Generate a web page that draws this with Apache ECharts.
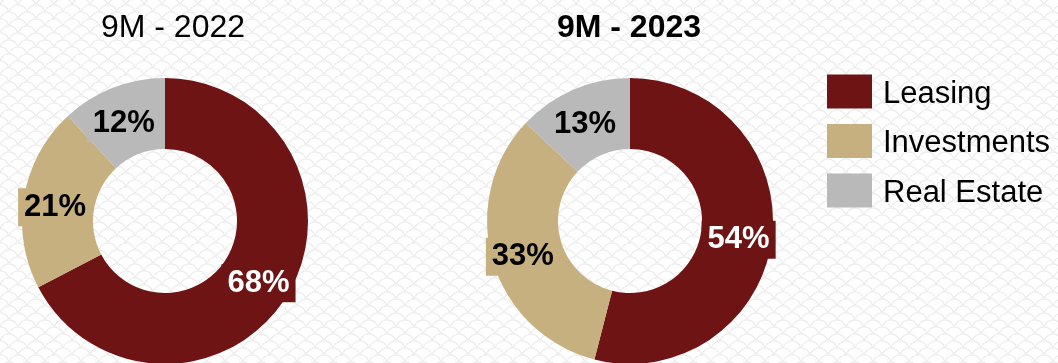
<!DOCTYPE html>
<html>
<head>
<meta charset="utf-8">
<script src="https://cdn.jsdelivr.net/npm/echarts@6/dist/echarts.min.js"></script>
<style>
  html, body { margin: 0; padding: 0; background: #fff; }
  #chart { width: 1058px; height: 363px; }
</style>
</head>
<body>
<div id="chart"></div>
<script>
// Revenue mix by segment, nine-month periods
const segments = ['Leasing', 'Investments', 'Real Estate'];
const periods = ['9M - 2022', '9M - 2023'];
const share2022 = [68, 21, 12];
const share2023 = [54, 33, 13];

const segmentColors = ['#6e1414', '#c7b07f', '#b9b9b9'];
const labelColors = ['#ffffff', '#000000', '#000000'];
const FONT = '"Liberation Sans", Arial, Helvetica, sans-serif';

// faint scalloped backdrop tile
function makeTile() {
  const w = 18, h = 14;
  const c = document.createElement('canvas');
  c.width = w; c.height = h;
  const g = c.getContext('2d');
  g.fillStyle = '#ffffff';
  g.fillRect(0, 0, w, h);
  g.strokeStyle = '#ebebeb';
  g.lineWidth = 1.2;
  const arcs = [[9, 7], [0, 14], [18, 14], [0, 0], [18, 0], [9, 21]];
  arcs.forEach(([x, y]) => {
    g.beginPath();
    g.arc(x, y, 9, Math.PI * 1.1, Math.PI * 1.9);
    g.stroke();
  });
  return c;
}

function donutData(values) {
  return values.map((v, i) => ({
    name: segments[i],
    value: v,
    itemStyle: { color: segmentColors[i] },
    label: {
      color: labelColors[i],
      backgroundColor: segmentColors[i]
    }
  }));
}

function donut(name, values, cx) {
  return {
    type: 'pie',
    name: name,
    center: [cx, 221],
    radius: [72, 143],
    startAngle: 90,
    clockwise: true,
    avoidLabelOverlap: false,
    silent: true,
    animation: false,
    label: {
      show: true,
      position: 'inside',
      formatter: p => p.value + '%',
      fontFamily: FONT,
      fontWeight: 'bold',
      fontSize: 31,
      lineHeight: 32,
      padding: [6, 6, 0, 6],
      offset: [-1, 5]
    },
    labelLine: { show: false },
    data: donutData(values)
  };
}

const chart = echarts.init(document.getElementById('chart'), null, { renderer: 'canvas' });
chart.setOption({
  backgroundColor: { image: makeTile(), repeat: 'repeat' },
  animation: false,
  title: [
    {
      text: periods[0], left: 173, top: 12, textAlign: 'center', padding: 0,
      textStyle: { fontFamily: FONT, fontSize: 32, fontWeight: 'normal', color: '#000' }
    },
    {
      text: periods[1], left: 629, top: 12, textAlign: 'center', padding: 0,
      textStyle: { fontFamily: FONT, fontSize: 32, fontWeight: 'bold', color: '#000' }
    }
  ],
  legend: {
    orient: 'vertical',
    left: 827,
    top: 73.5,
    padding: 0,
    itemWidth: 45,
    itemHeight: 34,
    itemGap: 13.5,
    icon: 'rect',
    selectedMode: false,
    data: segments,
    formatter: '{t|{name}}',
    textStyle: {
      fontFamily: FONT, fontSize: 31, color: '#000',
      rich: {
        t: { fontFamily: FONT, fontSize: 31, color: '#000', lineHeight: 34, padding: [5, 0, 0, 6] }
      }
    }
  },
  series: [
    donut(periods[0], share2022, 165),
    donut(periods[1], share2023, 630)
  ]
});
</script>
</body>
</html>
